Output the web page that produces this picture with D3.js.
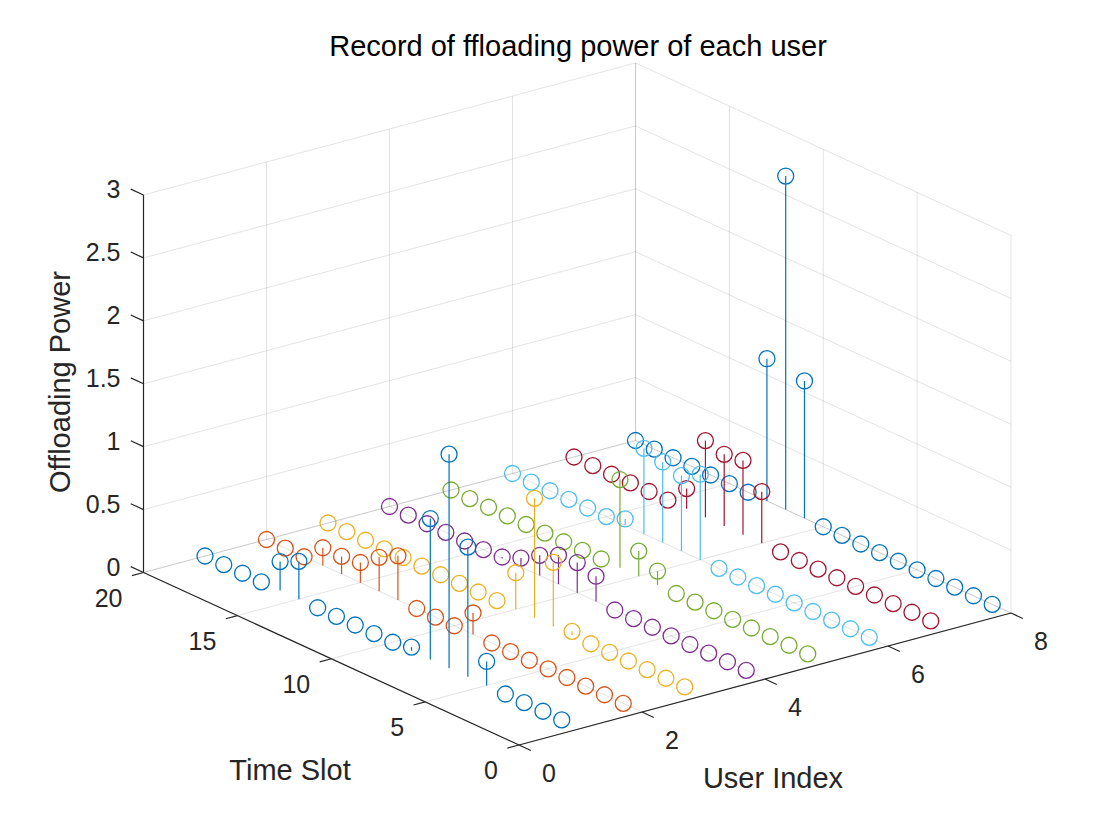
<!DOCTYPE html>
<html><head><meta charset="utf-8">
<script src="https://cdn.jsdelivr.net/npm/d3@7"></script>
<style>body{margin:0;background:#fff} svg{display:block}</style>
</head><body>
<svg id="chart" width="1116" height="832"></svg>
<script>
// ---------- data ----------
const userIndex = [1, 2, 3, 4, 5, 6, 7, 8];
const timeSlots = [1,2,3,4,5,6,7,8,9,10,11,12,13,14,15,16,17,18,19,20];
const powerUser1 = [0,0,0,0,0.19,1.03,1.70,1.12,0.03,0,0,0,0,0,0.30,0.23,0,0,0,0];
const powerUser2 = [0,0,0,0,0,0,0,0,0.17,0,0,0,0.35,0.27,0.16,0.14,0.14,0,0,0];
const powerUser3 = [0,0,0,0,0,0,0.03,0.51,0.95,0.29,0,0,0,0,0,0,0,0,0,0];
const powerUser4 = [0,0,0,0,0,0,0,0,0.20,0.24,0.23,0.16,0.07,0.01,0,0,0,0,0,0];
const powerUser5 = [0,0,0,0,0,0,0,0,0.11,0.20,0.70,0,0,0,0,0,0,0,0,0];
const powerUser6 = [0,0,0,0,0,0,0,0,0,0.68,0.60,0.64,0.68,0.05,0,0,0,0,0,0];
const powerUser7 = [0,0,0,0,0,0,0,0,0,0.41,0.59,0.57,0.61,0.16,0,0,0,0,0,0];
const powerUser8 = [0,0,0,0,0,0,0,0,0,0,1.09,2.65,1.13,0,0,0,0,0,0,0];
const powerSeries = [powerUser1, powerUser2, powerUser3, powerUser4, powerUser5, powerUser6, powerUser7, powerUser8];
const seriesColors = ["#0072BD","#D95319","#EDB120","#7E2F8E","#77AC30","#4DBEEE","#A2142F","#0072BD"];
const xTicks = [0, 2, 4, 6, 8];
const yTicks = [0, 5, 10, 15, 20];
const zTicks = [0, 0.5, 1, 1.5, 2, 2.5, 3];
const zTickLabels = ["0", "0.5", "1", "1.5", "2", "2.5", "3"];
const titleText = "Record of ffloading power of each user";
const xLabelText = "User Index";
const yLabelText = "Time Slot";
const zLabelText = "Offloading Power";

// ---------- projection (MATLAB-like 3D view) ----------
const O = [519, 745];
const EX = [492, -132], EY = [-375.5, -172.5], EZ = [0, -377.5];
const xs = d3.scaleLinear().domain([0, 8]).range([0, 1]);
const ys = d3.scaleLinear().domain([0, 20]).range([0, 1]);
const zs = d3.scaleLinear().domain([0, 3]).range([0, 1]);
function P(x, y, z) {
  const u = xs(x), v = ys(y), w = zs(z);
  return [O[0] + u*EX[0] + v*EY[0] + w*EZ[0], O[1] + u*EX[1] + v*EY[1] + w*EZ[1]];
}
const font = "'Liberation Sans', Arial, Helvetica, sans-serif";
const axisColor = "#262626";
const svg = d3.select("#chart");

// ---------- grid ----------
const gridSegs = [];
xTicks.forEach(x => gridSegs.push([P(x,0,0), P(x,20,0)]));        // floor
yTicks.forEach(y => gridSegs.push([P(0,y,0), P(8,y,0)]));
xTicks.forEach(x => gridSegs.push([P(x,20,0), P(x,20,3)]));       // back wall y=20
zTicks.forEach(z => gridSegs.push([P(0,20,z), P(8,20,z)]));
yTicks.forEach(y => gridSegs.push([P(8,y,0), P(8,y,3)]));         // back wall x=8
zTicks.forEach(z => gridSegs.push([P(8,0,z), P(8,20,z)]));
svg.append("g").selectAll("line").data(gridSegs).join("line")
  .attr("x1", d => d[0][0]).attr("y1", d => d[0][1])
  .attr("x2", d => d[1][0]).attr("y2", d => d[1][1])
  .attr("stroke", axisColor).attr("stroke-opacity", 0.13).attr("stroke-width", 1);

// ---------- axes ----------
const axes = svg.append("g").attr("stroke", axisColor).attr("stroke-width", 1.2).attr("fill", "none");
const axSegs = [[P(0,0,0), P(8,0,0)], [P(0,0,0), P(0,20,0)], [P(0,20,0), P(0,20,3)]];
const ylen = Math.hypot(EY[0], EY[1]), xlen = Math.hypot(EX[0], EX[1]);
const uy = [EY[0]/ylen, EY[1]/ylen], ux = [EX[0]/xlen, EX[1]/xlen];
xTicks.forEach(x => { const p = P(x,0,0); axSegs.push([p, [p[0]-uy[0]*13, p[1]-uy[1]*13]]); });
yTicks.forEach(y => { const p = P(0,y,0); axSegs.push([p, [p[0]-ux[0]*12, p[1]-ux[1]*12]]); });
zTicks.forEach(z => { const p = P(0,20,z); axSegs.push([p, [p[0]+uy[0]*14, p[1]+uy[1]*14]]); });
axes.selectAll("line").data(axSegs).join("line")
  .attr("x1", d => d[0][0]).attr("y1", d => d[0][1])
  .attr("x2", d => d[1][0]).attr("y2", d => d[1][1]);

// tick labels
const tl = svg.append("g").attr("font-family", font).attr("font-size", 25).attr("fill", axisColor);
tl.selectAll("text.xt").data(xTicks).join("text").attr("class","xt")
  .attr("x", d => P(d,0,0)[0] + 30).attr("y", d => P(d,0,0)[1] + 28)
  .attr("text-anchor", "middle").attr("dominant-baseline", "central").text(d => d);
tl.selectAll("text.yt").data(yTicks).join("text").attr("class","yt")
  .attr("x", d => P(0,d,0)[0] - 21).attr("y", d => P(0,d,0)[1] + 25)
  .attr("text-anchor", "end").attr("dominant-baseline", "central").text(d => d);
tl.selectAll("text.zt").data(zTicks).join("text").attr("class","zt")
  .attr("x", d => P(0,20,d)[0] - 23).attr("y", d => P(0,20,d)[1] - 6)
  .attr("text-anchor", "end").attr("dominant-baseline", "central").text((d,i) => zTickLabels[i]);

// axis labels + title
const lab = svg.append("g").attr("font-family", font).attr("font-size", 29).attr("fill", axisColor);
lab.append("text").attr("x", 773).attr("y", 788).attr("text-anchor", "middle").text(xLabelText);
lab.append("text").attr("x", 290).attr("y", 780).attr("text-anchor", "middle").text(yLabelText);
lab.append("text").attr("transform", "translate(70,382) rotate(-90)").attr("text-anchor", "middle").text(zLabelText);
svg.append("text").attr("x", 578).attr("y", 56).attr("text-anchor", "middle")
  .attr("font-family", font).attr("font-size", 29).attr("fill", "#000").text(titleText);

// ---------- stems ----------
const pts = [];
userIndex.forEach((u, i) => {
  timeSlots.forEach((t, j) => {
    pts.push({x: u, y: t, z: powerSeries[i][j], color: seriesColors[i]});
  });
});
pts.forEach(d => { d.base = P(d.x, d.y, 0); d.top = P(d.x, d.y, d.z); });
pts.sort((a, b) => a.base[1] - b.base[1]);
const g = svg.append("g");
const sg = g.selectAll("g").data(pts).join("g");
sg.filter(d => d.z > 0).append("line")
  .attr("x1", d => d.base[0]).attr("y1", d => d.base[1])
  .attr("x2", d => d.top[0]).attr("y2", d => d.top[1])
  .attr("stroke", d => d.color).attr("stroke-width", 1.2);
sg.append("circle")
  .attr("cx", d => d.top[0]).attr("cy", d => d.top[1]).attr("r", 8)
  .attr("fill", "none").attr("stroke", d => d.color).attr("stroke-width", 1.3);
</script>
</body></html>
